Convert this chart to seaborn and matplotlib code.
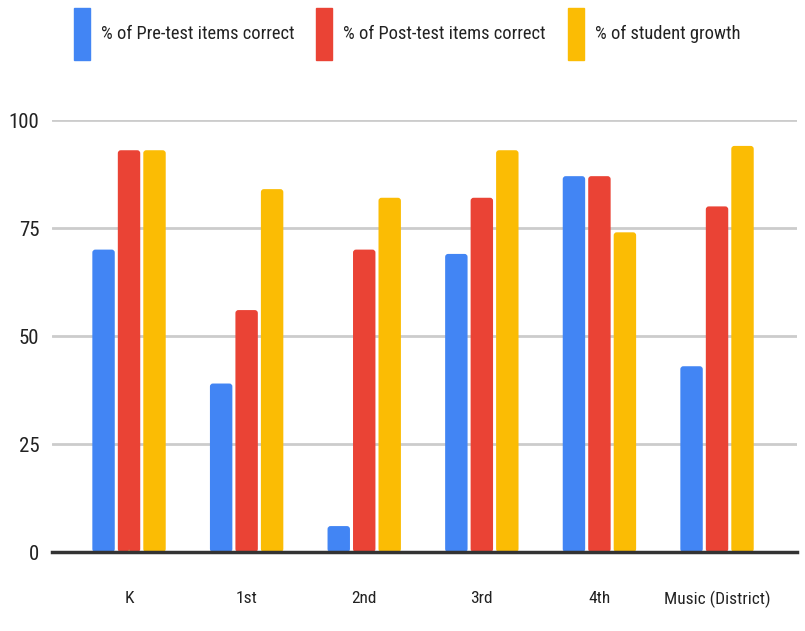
import matplotlib
matplotlib.use("Agg")
import matplotlib.pyplot as plt
from matplotlib.patches import FancyBboxPatch
import seaborn as sns
import pandas as pd

categories = ["K", "1st", "2nd", "3rd", "4th", "Music (District)"]
series_names = ["% of Pre-test items correct", "% of Post-test items correct", "% of student growth"]
pre_test = [70, 39, 6, 69, 87, 43]
post_test = [93, 56, 70, 82, 87, 80]
growth = [93, 84, 82, 93, 74, 94]
colors = ["#4285F4", "#EA4335", "#FBBC04"]
yticks = [0, 25, 50, 75, 100]

rows = []
for name, vals in zip(series_names, [pre_test, post_test, growth]):
    for c, v in zip(categories, vals):
        rows.append({"category": c, "series": name, "value": v})
df = pd.DataFrame(rows)

sns.set_theme(style="white")
plt.rcParams["font.family"] = ["Roboto Condensed", "Liberation Sans Narrow", "Roboto", "DejaVu Sans"]

fig = plt.figure(figsize=(8.05, 6.31), dpi=100)
ax = fig.add_axes([52 / 805, 1 - 552 / 631, (797 - 52) / 805, (552 - 120) / 631])

sns.barplot(data=df, x="category", y="value", hue="series", order=categories,
            hue_order=series_names, palette=colors, width=0.65, gap=0.12,
            saturation=1, ax=ax, legend=True, zorder=3)

ax.set_ylim(0, 100)
ax.set_xlim(-0.655, 5.68)

# round the top corners of the bars drawn by seaborn
fig.canvas.draw()
bbox = ax.get_window_extent()
px_per_x = bbox.width / (ax.get_xlim()[1] - ax.get_xlim()[0])
px_per_y = bbox.height / (ax.get_ylim()[1] - ax.get_ylim()[0])
aspect = px_per_x / px_per_y
r_px = 3.0
for p in list(ax.patches):
    x, y = p.get_x(), p.get_y()
    w, h = p.get_width(), p.get_height()
    fc = p.get_facecolor()
    p.remove()
    fb = FancyBboxPatch((x, y), w, h, boxstyle=f"round,pad=0,rounding_size={r_px / px_per_x}",
                        mutation_aspect=aspect, facecolor=fc, edgecolor="none", zorder=3)
    ax.add_patch(fb)

ax.set_yticks(yticks)
ax.set_yticklabels([str(t) for t in yticks])
ax.set_xlabel("")
ax.set_ylabel("")
for s in ["top", "right", "left"]:
    ax.spines[s].set_visible(False)
ax.spines["bottom"].set_color("#333333")
ax.spines["bottom"].set_linewidth(2.5)
ax.spines["bottom"].set_zorder(5)
ax.yaxis.grid(True, color="#cccccc", linewidth=2, zorder=0)
ax.set_axisbelow(True)
ax.tick_params(axis="y", length=0, pad=9, labelsize=15, labelcolor="#222222")
ax.tick_params(axis="x", length=0, pad=28, labelsize=12.5, labelcolor="#222222")

ax.get_legend().remove()
handles = [plt.Rectangle((0, 0), 1, 1, color=c) for c in colors]
fig.legend(handles, series_names, loc="center", bbox_to_anchor=(407 / 805, 1 - 34 / 631),
           ncol=3, frameon=False, fontsize=13.3, handlelength=0.85, handleheight=4.0,
           handletextpad=0.6, columnspacing=1.2, labelcolor="#222222")

fig.savefig("out.png", dpi=100)
